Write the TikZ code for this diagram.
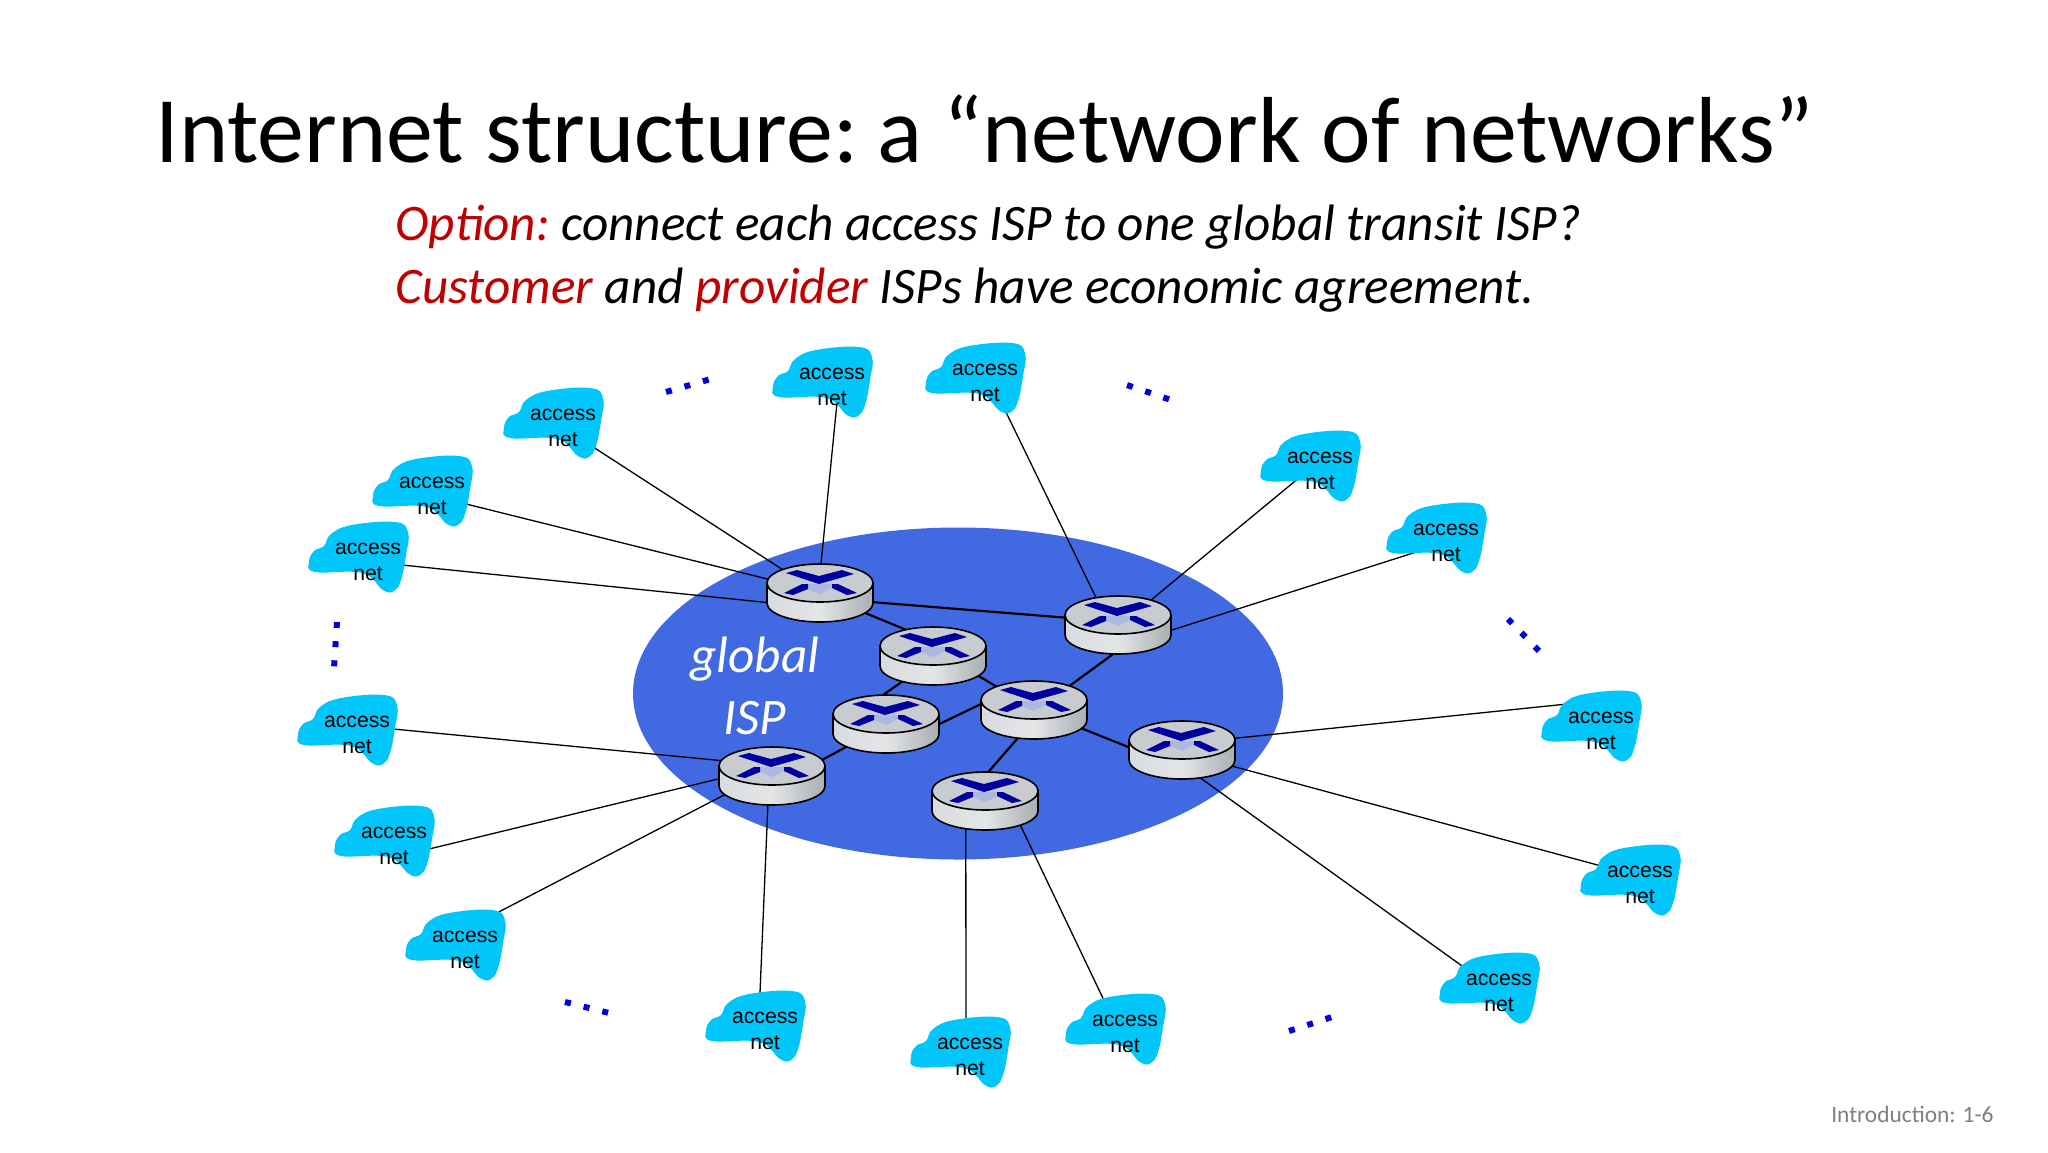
\documentclass[tikz,border=0pt]{standalone}
\usepackage{fontspec}
\setmainfont{Carlito}
\newfontfamily\arialfont{Liberation Sans}
\usepackage{xcolor}
\definecolor{myred}{RGB}{192,0,0}
\definecolor{myblue}{RGB}{65,105,225}
\definecolor{mycyan}{RGB}{0,198,250}
\definecolor{myx}{RGB}{0,0,160}
\definecolor{mydots}{RGB}{0,0,225}
\definecolor{mylight}{RGB}{170,184,226}
\definecolor{mytop}{RGB}{200,204,208}
\definecolor{mygrey}{RGB}{127,127,127}
\usetikzlibrary{backgrounds,shapes.geometric}
\tikzset{
	router/.pic={
		\path[draw=black,line width=.8pt,left color=mytop!70!white,right color=mytop!85!black,middle color=mytop!50!white]
			(-53,0) -- (-53,20) arc (180:0:53 and 19) -- (53,0) -- cycle;
		\path[draw=black,line width=.8pt,fill=mytop] (0,0) ellipse [x radius=53,y radius=19];
		\fill[mylight] (-12,1) -- (12,1) -- (12,5) -- (0,11) -- (-12,6) -- cycle;
		\fill[myx] (-34,-10) -- (-23,-13) -- (-1,-7) -- (22,-13) -- (34,-9) -- (-1,1) -- cycle;
		\fill[myx] (-36,10) -- (-18,1) -- (-12,1) -- (-12,6) -- (-27,12) -- cycle;
		\fill[myx] (12,1) -- (18,1) -- (37,10) -- (27,12) -- (12,5) -- cycle;
	},
	cloud/.pic={
		\fill[mycyan] plot[smooth cycle,tension=.7] coordinates {(-59,2) (-54,-9) (-44,-14) (-37,-26) (-16,-35) (27,-38) (40,-28) (38,-5) (33,20) (26,31) (15,30) (-6,13) (-53,12)};
	}
}

\begin{document}
\begin{tikzpicture}[x=.5pt,y=-.5pt]
	\tikzstyle{rnode}=[ellipse,inner sep=0pt,minimum width=53pt,minimum height=29pt];
	\tikzstyle{anet}=[align=center,inner sep=0pt,font=\arialfont\fontsize{10.6}{13}\selectfont];
	\tikzstyle{link}=[line width=.65pt];
	\tikzstyle{core}=[line width=1.1pt];
	\tikzstyle{dots}=[mydots,line width=3pt,dash pattern=on 3pt off 6.6pt];
	\useasboundingbox (0,0) rectangle (2048,1152);
	%% Title
	\node[anchor=base west,inner sep=0pt,font=\fontsize{46.9}{56}\selectfont] (title) at (155,162) {Internet structure:\kern-4.5pt{} a “network of networks”};
	\node[anchor=base west,inner sep=0pt,font=\itshape\fontsize{25.6}{30}\selectfont] (line1) at (395,240) {\textcolor{myred}{Option:}\kern-2pt{} connect each access ISP to one global transit ISP?};
	\node[anchor=base west,inner sep=0pt,font=\itshape\fontsize{25.6}{30}\selectfont] (line2) at (395,303) {\textcolor{myred}{Customer} and \textcolor{myred}{provider} ISPs have economic agreement.};
	\node[anchor=base east,inner sep=0pt,mygrey,font=\fontsize{11.7}{15}\selectfont] (pageno) at (1994,1122) {Introduction: 1-6};
	%% Routers
	\foreach \name/\x/\y in {r1/820/583,r2/1118/615,r3/933/646,r4/886/714,r5/1034/700,r6/1182/740,r7/772/766,r8/985/791}{
		\pic at (\x,\y) {router};
		\node[rnode] (\name) at (\x,\y+10) {};
	}
	%% Access Nets
	\foreach \name/\x/\y in {a1/563/426,a2/832/385,a3/985/381,a4/1320/469,a5/1446/541,a6/1601/729,a7/1640/883,a8/1499/991,a9/1125/1032,a10/970/1055,a11/765/1029,a12/465/948,a13/394/844,a14/357/733,a15/368/560,a16/432/494}{
		\pic at (\x,\y) {cloud};
		\node[anet] (\name) at (\x,\y+1.5) {access\\net};
	}
	\begin{scope}[on background layer]
		%% Global ISP
		\fill[myblue] (958,693.5) ellipse [x radius=325,y radius=166];
		%% Links
		\foreach \from/\to/\dx/\dy in {r1.148/a1/0/0,r1.88/a2/3.3/0,r2.129/a3/3.3/0,r2.37/a4/0/5,r2.-6/a5/0/0,r6.13/a6/0/15,r6.-18/a7/0/4,r6.-57/a8/0/0,r8.-33/a9/-2.6/0,r8.-125/a10/-2/0,r7.-98/a11/-3.3/0,r7.-159/a12/0/10,r7.-177/a13/0/-6,r7.162/a14/0/4.5,r1.-169/a15/0/0,r1.165/a16/0/0}
			\draw[link] (\from) -- ([xshift=\dx pt,yshift=\dy pt]\to.center);
		\foreach \from/\to in {r1.-10/r2.172,r1.-24/r3.135,r3.-140/r4.95,r3.-23/r5.148,r4.0/r5.173,r5.34/r2.-100,r5.-21/r6.177,r5.-120/r8.83,r4.-150/r7.17}
			\draw[core] (\from) -- (\to);
	\end{scope}
	\node[white,font=\itshape\fontsize{25.6}{30}\selectfont,anchor=base,inner sep=0pt] (global) at (755,672) {global};
	\node[white,font=\itshape\fontsize{25.6}{30}\selectfont,anchor=base,inner sep=0pt] (isp) at (755,734) {ISP};
	%% Dots
	\draw[dots] (666,392) -- (714,378);
	\draw[dots] (1127,385) -- (1174,401);
	\draw[dots] (1508,619) -- (1543,655);
	\draw[dots] (337,622) -- (334,668);
	\draw[dots] (565,1002) -- (613,1014);
	\draw[dots] (1289,1031) -- (1335,1016);
\end{tikzpicture}
\end{document}
